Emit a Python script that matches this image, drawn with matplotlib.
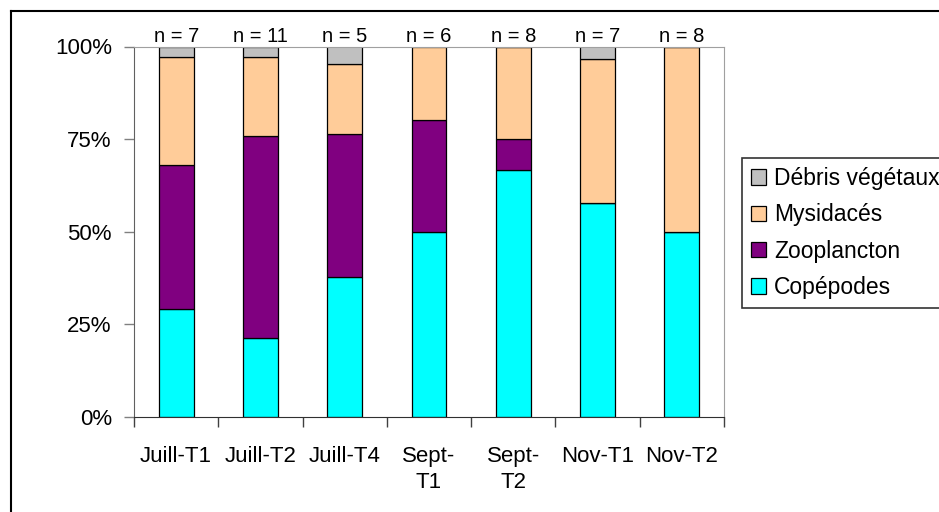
import matplotlib.pyplot as plt
from matplotlib.lines import Line2D

plt.rcParams['font.family'] = ['Liberation Sans', 'DejaVu Sans']

# Données : part (%) de chaque proie par station
stations = ['Juill-T1', 'Juill-T2', 'Juill-T4', 'Sept-\nT1', 'Sept-\nT2', 'Nov-T1', 'Nov-T2']
effectifs = [7, 11, 5, 6, 8, 7, 8]
copepodes = [29.1, 21.4, 37.9, 50.0, 66.7, 57.7, 50.0]
zooplancton = [39.0, 54.4, 38.4, 30.2, 8.3, 0.0, 0.0]
mysidaces = [29.2, 21.5, 19.0, 19.8, 25.0, 38.8, 50.0]
debris = [2.7, 2.7, 4.7, 0.0, 0.0, 3.5, 0.0]

W, H = 939, 512
fig = plt.figure(figsize=(W / 100, H / 100), dpi=100)
fig.patch.set_facecolor('white')

# cadre du graphique : seuls les bords gauche et haut sont visibles
fig.lines.append(Line2D([11 / W, 11 / W], [0, 1 - 11 / H], transform=fig.transFigure, color='black', linewidth=1.5))
fig.lines.append(Line2D([11 / W, 1], [1 - 11 / H, 1 - 11 / H], transform=fig.transFigure, color='black', linewidth=1.5))

ax = fig.add_axes([134 / W, (H - 417) / H, (724 - 134) / W, (417 - 46.5) / H])

x = range(len(stations))
series = [(copepodes, '#00FFFF', 'Copépodes'),
          (zooplancton, '#800080', 'Zooplancton'),
          (mysidaces, '#FFCC99', 'Mysidacés'),
          (debris, '#C0C0C0', 'Débris végétaux')]
bas = [0.0] * len(stations)
for vals, coul, nom in series:
    ax.bar(x, vals, 0.415, bottom=bas, color=coul, edgecolor='black', linewidth=0.9, label=nom)
    bas = [a + v for a, v in zip(bas, vals)]

for i, n in enumerate(effectifs):
    ax.text(i, 100.2, f'n = {n}', ha='center', va='bottom', fontsize=14.5)

ax.set_xlim(-0.5, len(stations) - 0.5)
ax.set_ylim(0, 100)
ax.set_yticks([0, 25, 50, 75, 100])
ax.set_yticklabels(['0%', '25%', '50%', '75%', '100%'])
ax.tick_params(axis='y', length=7, width=1, color='#808080', pad=9, labelsize=16)

# graduations entre les barres, étiquettes au centre
ax.set_xticks([i - 0.5 for i in range(len(stations) + 1)])
ax.set_xticklabels([])
ax.set_xticks(list(x), minor=True)
ax.set_xticklabels(stations, minor=True, fontsize=16, linespacing=1.3)
ax.tick_params(axis='x', which='major', length=7, width=1, color='#404040')
ax.tick_params(axis='x', which='minor', length=0, pad=21)

for s in ['top', 'right']:
    ax.spines[s].set_color('#A0A0A0')
ax.spines['left'].set_color('#606060')
ax.spines['bottom'].set_color('#303030')

h, l = ax.get_legend_handles_labels()
leg = fig.legend(h[::-1], l[::-1], loc='upper left', bbox_to_anchor=(742 / W, 1 - 158 / H),
                 fontsize=16.5, frameon=True, fancybox=False, handlelength=0.65, handleheight=0.65,
                 handletextpad=0.35, labelspacing=0.58, borderpad=0.4, borderaxespad=0)
leg.get_frame().set_edgecolor('black')
leg.get_frame().set_linewidth(1.2)

fig.savefig('out.png', dpi=100)
